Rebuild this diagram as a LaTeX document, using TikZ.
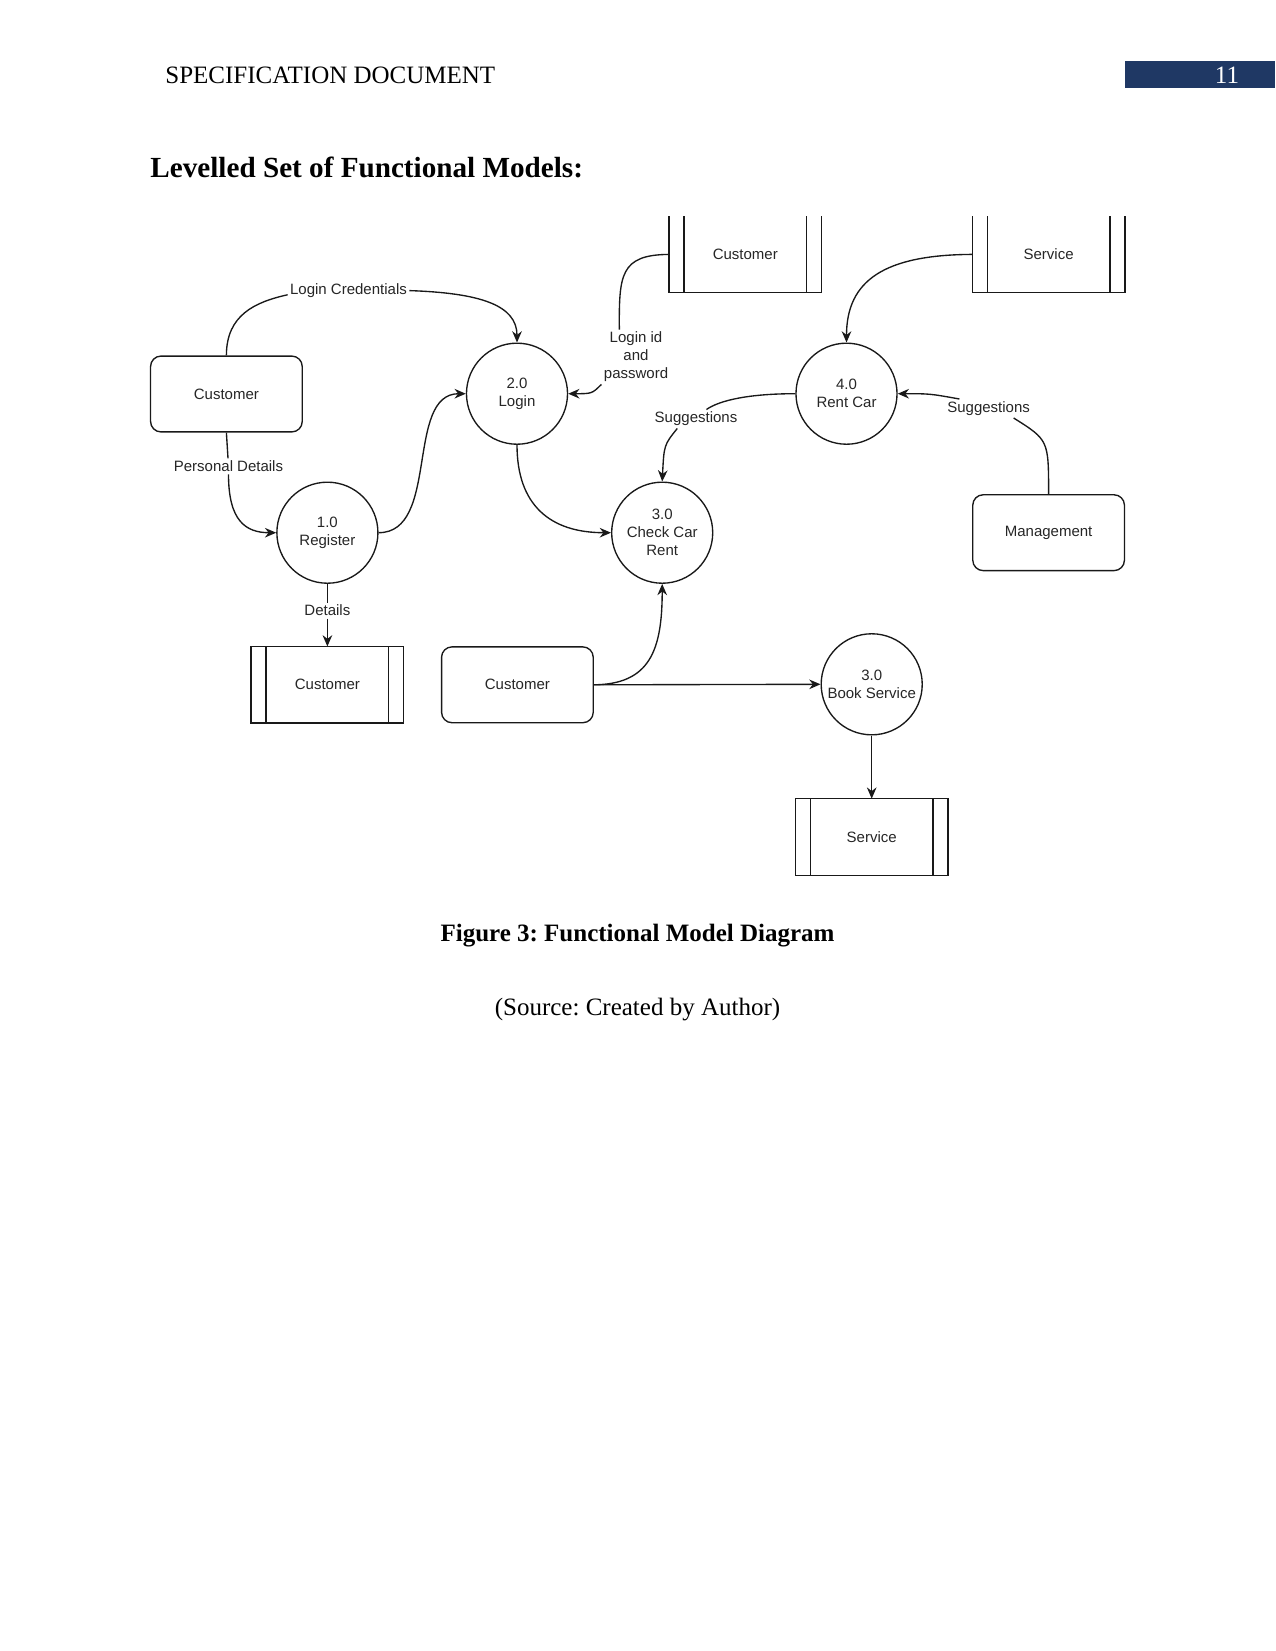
\documentclass[tikz,border=0pt]{standalone}
\usepackage{fontspec}
\setmainfont{Liberation Serif}
\newfontfamily\dfdfont{Liberation Sans}
\usetikzlibrary{arrows.meta}
\definecolor{headerblue}{RGB}{31,56,100}
\newcommand\dfdsize{\dfdfont\fontsize{7.2}{8.6}\selectfont}
\frenchspacing

\begin{document}
\begin{tikzpicture}[x=0.48pt, y=-0.48pt,
    >={Stealth[length=5.4pt,width=4.6pt]},
    flow/.style={draw=black!90, line width=0.65pt},
    process/.style={draw=black!90, line width=0.65pt, circle, minimum size=48.5pt, inner sep=0pt, align=center, text=black!85, font=\dfdsize},
    entity/.style={draw=black!90, line width=0.65pt, rounded corners=5pt, minimum width=72.8pt, minimum height=36.4pt, text=black!85, font=\dfdsize},
    store/.style={minimum width=72.8pt, minimum height=36.4pt, inner sep=0pt, text=black!85, font=\dfdsize},
    flowlabel/.style={fill=white, inner sep=1pt, align=center, text=black!85, font=\dfdsize}]
            \useasboundingbox (0,0) rectangle (1275,1651);

            % Page header and title
            \fill[headerblue] (1125,61) rectangle (1275,88);
            \node[anchor=west, inner sep=0pt, font=\fontsize{12}{14}\selectfont] (header) at (165,75) {SPECIFICATION DOCUMENT};
            \node[text=white, inner sep=0pt, font=\fontsize{12}{14}\selectfont] (pagenum) at (1227,75) {11};
            \node[anchor=west, inner sep=0pt, font=\bfseries\fontsize{14}{17}\selectfont] (title) at (150,167) {Levelled Set of Functional Models:};

            % External entities
            \node[entity] (cust1) at (226.4,394) {Customer};
            \node[entity] (mgmt) at (1048.6,532.7) {Management};
            \node[entity] (cust2) at (517.4,684.8) {Customer};

            % Processes
            \node[process] (login) at (517,393.7) {2.0\\Login};
            \node[process] (reg) at (327.4,532.7) {1.0\\Register};
            \node[process] (check) at (662.2,532.7) {3.0\\Check Car\\Rent};
            \node[process] (rent) at (846.5,393.7) {4.0\\Rent Car};
            \node[process] (book) at (871.7,684.3) {3.0\\Book Service};

            % Data stores
            \node[store] (custdb1) at (745.3,254.4) {Customer};
            \node[store] (servdb1) at (1048.6,254.4) {Service};
            \node[store] (custdb2) at (327.4,684.8) {Customer};
            \node[store] (servdb2) at (871.7,837) {Service};
            \foreach \s in {custdb1,servdb1}
                \draw[flow] (\s.north west) -- (\s.south west) -- (\s.south east) -- (\s.north east);
            \foreach \s in {custdb2,servdb2}
                \draw[flow] (\s.north west) rectangle (\s.south east);
            \foreach \s in {custdb1,servdb1,custdb2,servdb2}
                \draw[flow] ([xshift=7.2pt]\s.north west) -- ([xshift=7.2pt]\s.south west)
                            ([xshift=-7.2pt]\s.north east) -- ([xshift=-7.2pt]\s.south east);

            % Flow labels
            \node[flowlabel] (logincred) at (348.5,290.6) {Login Credentials};
            \node[flowlabel] (persdet) at (228.5,466.4) {Personal Details};
            \node[flowlabel] (details) at (327.4,610.6) {Details};
            \node[flowlabel] (loginid) at (636,357) {Login id\\and\\password};
            \node[flowlabel] (sugg1) at (696,419) {Suggestions};
            \node[flowlabel] (sugg2) at (988.6,408.5) {Suggestions};

            % Data flows
            \draw[flow] (cust1.north) .. controls (226.4,315) and (255,302) .. ([yshift=-2pt]logincred.west);
            \draw[flow,->] (logincred.east) .. controls (480,293) and (517,305) .. (login.north);
            \draw[flow] (cust1.south) -- (persdet);
            \draw[flow,->] (persdet) .. controls (228.5,520) and (245,532.7) .. (reg.west);
            \draw[flow,->] (reg.east) .. controls (440,532.7) and (405,393.7) .. (login.west);
            \draw[flow] (reg.south) -- (details);
            \draw[flow,->] (details) -- (custdb2.north);
            \draw[flow,->] (login.south) .. controls (517,505) and (550,532.7) .. (check.west);
            \draw[flow] (custdb1.west) .. controls (620,254.8) and (619,275) .. ([xshift=-8pt]loginid.north);
            \draw[flow,->] (loginid.south west) .. controls (592,393.7) .. (login.east);
            \draw[flow,->] (servdb1.west) .. controls (885,254.8) and (846.5,280) .. (rent.north);
            \draw[flow] (rent.west) .. controls (750,393.7) and (720,400) .. ([xshift=5pt]sugg1.north);
            \draw[flow,->] ([xshift=-9pt]sugg1.south) .. controls (664,445) .. (check.north);
            \draw[flow] (mgmt.north) .. controls (1048.6,440) .. ([xshift=12pt]sugg2.south);
            \draw[flow,->] ([xshift=-14pt]sugg2.north) .. controls (930,393.7) .. (rent.east);
            \draw[flow,->] (cust2.east) .. controls (650,684.3) and (662.2,650) .. (check.south);
            \draw[flow,->] (cust2.east) -- (book.west);
            \draw[flow,->] (book.south) -- (servdb2.north);

            % Caption
            \node[inner sep=0pt, font=\bfseries\fontsize{12}{14}\selectfont] (caption) at (637.5,936) {Figure 3: Functional Model Diagram};
            \node[inner sep=0pt, font=\fontsize{12}{14}\selectfont] (source) at (637.5,1010) {(Source: Created by Author)};
        \end{tikzpicture}
\end{document}
